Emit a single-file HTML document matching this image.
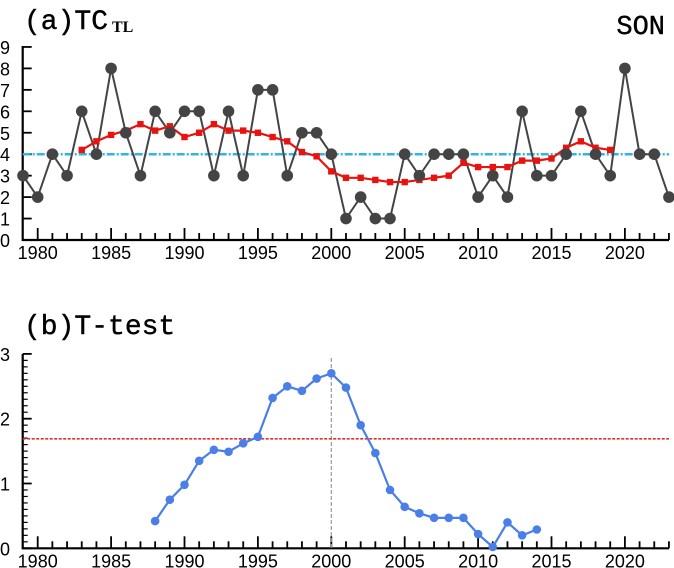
<!DOCTYPE html>
<html><head><meta charset="utf-8"><style>body{margin:0;background:#fff}svg{display:block}</style></head>
<body>
<svg id="s" width="674" height="568" xmlns="http://www.w3.org/2000/svg" font-family="Liberation Sans, sans-serif"></svg>
<script>
const s=document.getElementById('s');let h='';
const X=y=>37.7+14.68*(y-1980);
const Y1=v=>240-21.45*v, Y2=v=>548.3-64.8*v;
h+=`<text x="24" y="29" font-family="Liberation Mono, monospace" font-size="28" stroke="#000" stroke-width="0.4">(a)TC</text>`;
h+=`<text x="112" y="32" font-family="Liberation Serif, serif" font-weight="bold" font-size="16">TL</text>`;
h+=`<text x="665" y="34" text-anchor="end" font-family="Liberation Mono, monospace" font-size="27" stroke="#000" stroke-width="0.4">SON</text>`;
h+=`<text x="24" y="334" font-family="Liberation Mono, monospace" font-size="28" stroke="#000" stroke-width="0.4">(b)T-test</text>`;
function axes(Y,top,bot,maxv,minor){
  const L=22.7,R=669;
  h+=`<path d="M${L} ${top}V${bot}H${R}" stroke="#000" stroke-width="2.2" fill="none"/>`;
  for(let yr=1980;yr<=2023;yr++){const x=X(yr),big=yr%5==0;h+=`<line x1="${x}" x2="${x}" y1="${bot}" y2="${bot-(big?12:7)}" stroke="#000" stroke-width="1.8"/>`;
    if(big)h+=`<text x="${x}" y="${bot+19}" text-anchor="middle" font-size="18">${yr}</text>`;}
  for(let v=0;v<=maxv+1e-9;v+=minor){const y=Y(v),big=Math.abs(v-Math.round(v))<1e-6;h+=`<line x1="${L}" x2="${L+(big?9:5)}" y1="${y}" y2="${y}" stroke="#000" stroke-width="${big?1.8:1.2}"/>`;
    if(big)h+=`<text x="0" y="${y+7}" font-size="18">${Math.round(v)}</text>`;}
}
axes(Y1,46,240,9,1);
axes(Y2,354,548.3,3,0.1);
h+=`<line x1="22.7" x2="669" y1="${Y1(4)}" y2="${Y1(4)}" stroke="#33b5e0" stroke-width="2.5" stroke-dasharray="8,2,2,2"/>`;
const d=[3,2,4,3,6,4,8,5,3,6,5,6,6,3,6,3,7,7,3,5,5,4,1,2,1,1,4,3,4,4,4,2,3,2,6,3,3,4,6,4,3,8,4,4,2];
h+=`<polyline points="${d.map((v,i)=>X(1979+i)+','+Y1(v)).join(' ')}" fill="none" stroke="#444" stroke-width="2"/>`;
const r=[4.2,4.6,4.9,5.1,5.4,5.1,5.3,4.8,5.0,5.4,5.1,5.1,5.0,4.8,4.6,4.1,3.9,3.2,2.9,2.9,2.8,2.7,2.7,2.8,2.9,3.0,3.6,3.4,3.4,3.4,3.7,3.7,3.8,4.3,4.6,4.3,4.2];
h+=`<polyline points="${r.map((v,i)=>X(1983+i)+','+Y1(v)).join(' ')}" fill="none" stroke="#e8130f" stroke-width="2.2"/>`;
r.forEach((v,i)=>h+=`<rect x="${X(1983+i)-3.2}" y="${Y1(v)-3.2}" width="6.4" height="6.4" fill="#e8130f"/>`);
d.forEach((v,i)=>h+=`<circle cx="${X(1979+i)}" cy="${Y1(v)}" r="5.8" fill="#444"/>`);
h+=`<line x1="${X(2000)}" x2="${X(2000)}" y1="358" y2="548" stroke="#999" stroke-width="1.2" stroke-dasharray="4,2"/>`;
h+=`<line x1="22.7" x2="669" y1="${Y2(1.69)}" y2="${Y2(1.69)}" stroke="#e03030" stroke-width="1.6" stroke-dasharray="3,1.5"/>`;
const t=[0.42,0.75,0.98,1.35,1.52,1.49,1.62,1.72,2.32,2.5,2.43,2.62,2.7,2.48,1.9,1.47,0.9,0.64,0.54,0.47,0.47,0.47,0.22,0.02,0.4,0.2,0.29];
h+=`<polyline points="${t.map((v,i)=>X(1988+i)+','+Y2(v)).join(' ')}" fill="none" stroke="#4a7fe8" stroke-width="2.2"/>`;
t.forEach((v,i)=>h+=`<circle cx="${X(1988+i)}" cy="${Y2(v)}" r="4.3" fill="#4a7fe8"/>`);
s.innerHTML=h;
</script>
</body></html>
